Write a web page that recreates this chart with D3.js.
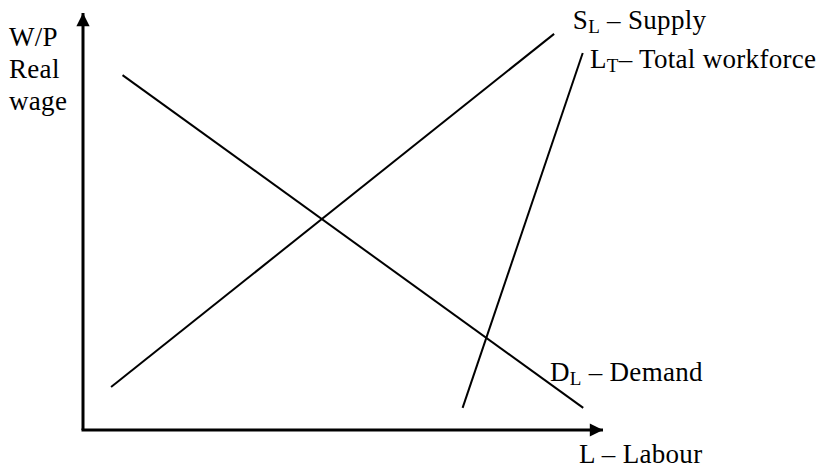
<!DOCTYPE html>
<html>
<head>
<meta charset="utf-8">
<script src="https://cdn.jsdelivr.net/npm/d3@7"></script>
<style>
  body { margin: 0; background: #fff; }
  text { font-family: "Liberation Serif", "Times New Roman", serif; fill: #000; letter-spacing: 0.3px; }
</style>
</head>
<body>
<div id="chart"></div>
<script>
// curves in abstract units (0-100 on both axes)
const demand = [[7.6, 85.1], [96.2, 5.3]];
const supply = [[5.4, 10.3], [90.6, 95.0]];
const workforce = [[73.0, 5.3], [96.1, 90.4]];

// labels: main text, subscript, rest
const curveLabels = [
  { main: "S", sub: "L", rest: " \u2013 Supply", at: [94.2, 96.2] },
  { main: "L", sub: "T", rest: "\u2013 Total workforce", at: [97.5, 86.8] },
  { main: "D", sub: "L", rest: " \u2013 Demand", at: [89.8, 11.8] }
];
const yLabel = ["W/P", "Real", "wage"];
const xLabel = "L \u2013 Labour";

const width = 838, height = 469;
const fs = 27;

const x = d3.scaleLinear().domain([0, 100]).range([83, 603]);
const y = d3.scaleLinear().domain([0, 100]).range([430, 13]);

const svg = d3.select("#chart").append("svg")
  .attr("width", width)
  .attr("height", height);

const defs = svg.append("defs");
defs.append("marker")
  .attr("id", "arrow")
  .attr("viewBox", "0 0 10 10")
  .attr("refX", 10).attr("refY", 5)
  .attr("markerWidth", 5).attr("markerHeight", 4.4)
  .attr("markerUnits", "strokeWidth")
  .attr("orient", "auto")
  .append("path")
  .attr("d", "M0,0 L10,5 L0,10 Z")
  .attr("fill", "#000");

// axes
svg.append("line")
  .attr("x1", x(0)).attr("y1", y(0))
  .attr("x2", x(0)).attr("y2", y(100))
  .attr("stroke", "#000").attr("stroke-width", 3)
  .attr("marker-end", "url(#arrow)");
svg.append("line")
  .attr("x1", x(0) - 1.5).attr("y1", y(0))
  .attr("x2", x(100)).attr("y2", y(0))
  .attr("stroke", "#000").attr("stroke-width", 3)
  .attr("marker-end", "url(#arrow)");

const line = d3.line().x(d => x(d[0])).y(d => y(d[1]));

svg.selectAll(".curve")
  .data([demand, supply, workforce])
  .enter()
  .append("path")
  .attr("class", "curve")
  .attr("d", line)
  .attr("fill", "none")
  .attr("stroke", "#000")
  .attr("stroke-width", 2);

// curve labels
const lab = svg.selectAll(".clab")
  .data(curveLabels)
  .enter()
  .append("text")
  .attr("class", "clab")
  .attr("x", d => x(d.at[0]))
  .attr("y", d => y(d.at[1]))
  .style("font-size", fs + "px");
lab.append("tspan").text(d => d.main);
lab.append("tspan").text(d => d.sub)
  .attr("dy", 4).style("font-size", "19px");
lab.append("tspan").text(d => d.rest).attr("dy", -4);

// y label
svg.selectAll(".ylab")
  .data(yLabel)
  .enter()
  .append("text")
  .attr("class", "ylab")
  .attr("x", 9)
  .attr("y", (d, i) => 46 + i * 32)
  .style("font-size", fs + "px")
  .text(d => d);

// x label
svg.append("text")
  .attr("x", 579)
  .attr("y", 463)
  .style("font-size", fs + "px")
  .text(xLabel);
</script>
</body>
</html>
